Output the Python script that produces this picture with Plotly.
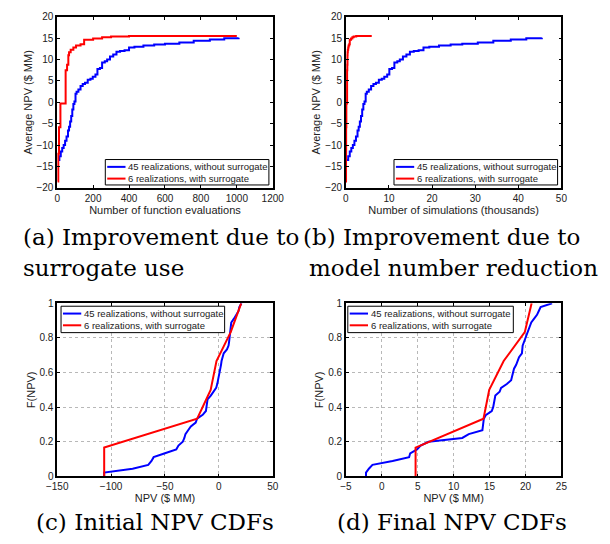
import plotly.graph_objects as go

# ---------------- data ----------------
# (a)/(b): best average NPV vs number of function evaluations
evals_45 = [5, 12, 20, 28, 36, 44, 52, 60, 66, 72, 78, 84, 90, 96, 102, 108, 118, 130, 142, 155,
            170, 185, 198, 213, 224, 238, 250, 265, 278, 294, 312, 330, 350, 375, 400, 430, 480, 540,
            600, 680, 760, 850, 930, 1010]
npv_45 = [-13.5, -12.6, -11.5, -10.7, -10, -9, -8, -6.6, -5.7, -4.5, -3.2, -1.7, -0.4, 0.2, 2.0,
          2.5, 3.0, 3.8, 4.3, 4.6, 5.3, 5.5, 6.0, 6.5, 7.8, 8.0, 9.3, 9.6, 10.0, 10.7, 11.2, 11.8,
          12.0, 12.2, 12.8, 13.0, 13.3, 13.5, 13.7, 14.0, 14.4, 14.7, 15.0, 15.1]
evals_6 = [2, 6, 10, 18, 47, 55, 62, 66, 75, 90, 105, 130, 150, 200, 250, 300, 400, 600, 1000]
npv_6 = [-18.5, -12, -5.8, -0.3, 7.5, 8.8, 11.0, 11.7, 12.3, 12.8, 13.3, 13.6, 14.6, 14.9, 15.2,
         15.4, 15.5, 15.5, 15.5]
n_real_45 = 45
n_real_6 = 6

# (c) initial NPV CDFs
init_npv_45 = [-106.4, -80, -65.5, -62.5, -60.5, -50, -39.5, -37.5, -33.5, -32, -31, -28.5, -26,
               -21.5, -20.2, -15, -12, -11.5, -11, -10.5, -7.5, -5, -2.5, -1.5, -0.7, 0, 0.5, 1,
               2, 2.5, 3.2, 4.5, 7.5, 9, 9.5, 9.8, 10, 10.3, 10.7, 11.5, 14, 16, 18.3, 19, 21]
init_npv_6 = [-106.4, -20.1, -7.6, -2.2, 11.0, 20.7]

# (d) final NPV CDFs
final_npv_45 = [-2.2, -1.8, -1.3, 1.5, 3.8, 3.95, 4.9, 5.4, 6.5, 11.2, 12.1, 14.0, 14.1, 14.15,
                14.2, 14.5, 15.3, 15.5, 15.65, 15.7, 15.8, 16.4, 16.6, 17.4, 18.0, 18.15, 18.2,
                18.4, 18.7, 18.9, 19.1, 19.5, 19.55, 19.6, 19.8, 20.0, 20.2, 20.4, 20.5, 20.8,
                21.2, 21.6, 21.85, 22.1, 23.7]
final_npv_6 = [4.7, 14.15, 14.95, 16.96, 19.9, 20.85]

label_45 = "45 realizations, without surrogate"
label_6 = "6 realizations, with surrogate"

captions = ["(a) Improvement due to", "surrogate use", "(b) Improvement due to",
            "model number reduction", "(c) Initial NPV CDFs", "(d) Final NPV CDFs"]

BLUE = "rgb(0,0,255)"
RED = "rgb(255,0,0)"
W, H = 610, 544


def px(x):
    return x / W


def py(y):
    return 1 - y / H


def cdf(vals):
    n = len(vals)
    xs = [vals[0]] + list(vals)
    ys = [0.0] + [(i + 1) / n for i in range(n)]
    return xs, ys


fig = go.Figure()

# (a)
fig.add_trace(go.Scatter(x=evals_45, y=npv_45, mode="lines", line=dict(color=BLUE, width=2, shape="hv"),
                         name=label_45, xaxis="x", yaxis="y"))
fig.add_trace(go.Scatter(x=evals_6, y=npv_6, mode="lines", line=dict(color=RED, width=2, shape="hv"),
                         name=label_6, xaxis="x", yaxis="y"))
# (b)
fig.add_trace(go.Scatter(x=[e * n_real_45 / 1000 for e in evals_45], y=npv_45, mode="lines",
                         line=dict(color=BLUE, width=2, shape="hv"),
                         name=label_45, xaxis="x2", yaxis="y2"))
fig.add_trace(go.Scatter(x=[e * n_real_6 / 1000 for e in evals_6], y=npv_6, mode="lines",
                         line=dict(color=RED, width=2, shape="hv"),
                         name=label_6, xaxis="x2", yaxis="y2"))
# (c)
cx, cy = cdf(init_npv_45)
fig.add_trace(go.Scatter(x=cx, y=cy, mode="lines", line=dict(color=BLUE, width=2),
                         name=label_45, xaxis="x3", yaxis="y3"))
cx, cy = cdf(init_npv_6)
fig.add_trace(go.Scatter(x=cx, y=cy, mode="lines", line=dict(color=RED, width=2),
                         name=label_6, xaxis="x3", yaxis="y3"))
# (d)
cx, cy = cdf(final_npv_45)
fig.add_trace(go.Scatter(x=cx, y=cy, mode="lines", line=dict(color=BLUE, width=2),
                         name=label_45, xaxis="x4", yaxis="y4"))
cx, cy = cdf(final_npv_6)
fig.add_trace(go.Scatter(x=cx, y=cy, mode="lines", line=dict(color=RED, width=2),
                         name=label_6, xaxis="x4", yaxis="y4"))

FONT = "Liberation Sans"
tickfont = dict(family=FONT, size=10, color="#222")
titlefont = dict(family=FONT, size=11, color="#222")


def ax(domain, rng, dtick, title, anchor, grid=False, standoff=2):
    d = dict(domain=domain, range=rng, dtick=dtick, tick0=rng[0], anchor=anchor,
             showline=True, linecolor="black", linewidth=1.5, mirror="allticks",
             ticks="inside", ticklen=3, tickcolor="black", tickwidth=1,
             tickfont=tickfont, zeroline=False,
             title=dict(text=title, font=titlefont, standoff=standoff))
    if grid:
        d.update(showgrid=True, gridcolor="#b8b8b8", griddash="dot", gridwidth=1)
    else:
        d.update(showgrid=False)
    return d


xa = [px(48), px(272)]
xb = [px(348), px(572)]
ytop = [py(186), py(11)]
ybot = [py(481), py(304)]

fig.update_layout(
    width=W, height=H, margin=dict(l=0, r=0, t=0, b=0),
    paper_bgcolor="white", plot_bgcolor="white", showlegend=False,
    xaxis=ax(xa, [0, 1200], 200, "Number of function evaluations", "y", standoff=1),
    yaxis=ax(ytop, [-20, 20], 5, "Average NPV ($ MM)", "x"),
    xaxis2=ax(xb, [0, 50], 10, "Number of simulations (thousands)", "y2", standoff=1),
    yaxis2=ax(ytop, [-20, 20], 5, "Average NPV ($ MM)", "x2"),
    xaxis3=ax(xa, [-150, 50], 50, "NPV ($ MM)", "y3", grid=True, standoff=1),
    yaxis3=ax(ybot, [0, 1], 0.2, "F(NPV)", "x3", grid=True),
    xaxis4=ax(xb, [-5, 25], 5, "NPV ($ MM)", "y4", grid=True, standoff=1),
    yaxis4=ax(ybot, [0, 1], 0.2, "F(NPV)", "x4", grid=True),
)

# legend boxes (pixel positions): left, top, right, bottom
legend_boxes = [(98, 157, 268, 183), (398, 157, 568, 183), (52, 307, 222, 334), (350, 307, 522, 334)]
LFONT = dict(family=FONT, size=9.5, color="#222")
for (l, t, r, b) in legend_boxes:
    fig.add_shape(type="rect", xref="paper", yref="paper", x0=px(l), x1=px(r), y0=py(b), y1=py(t),
                  fillcolor="white", line=dict(color="black", width=1), layer="above")
    rows = [(t + 7.5, BLUE, label_45), (t + 19.5, RED, label_6)]
    for (ry, col, lab) in rows:
        fig.add_shape(type="line", xref="paper", yref="paper", x0=px(l + 2), x1=px(l + 21),
                      y0=py(ry), y1=py(ry), line=dict(color=col, width=2), layer="above")
        fig.add_annotation(text=lab, x=px(l + 22), y=py(ry), xref="paper", yref="paper",
                           xanchor="left", yanchor="middle", showarrow=False, font=LFONT)

SERIF = "DejaVu Serif"
cap_pos = [(10, 236, "left"), (10, 268, "left"), (301, 236, "left"), (308, 268, "left"),
           (150, 528, "center"), (458, 528, "center")]
for text, (cx_, cy_, al) in zip(captions, cap_pos):
    fig.add_annotation(text=text, x=px(cx_), y=py(cy_), xref="paper", yref="paper",
                       xanchor=al, yanchor="middle", showarrow=False,
                       font=dict(family=SERIF, size=23, color="black"))

fig.write_html("out.html", config={"displayModeBar": False},
               post_script="document.body.style.margin='0';")
